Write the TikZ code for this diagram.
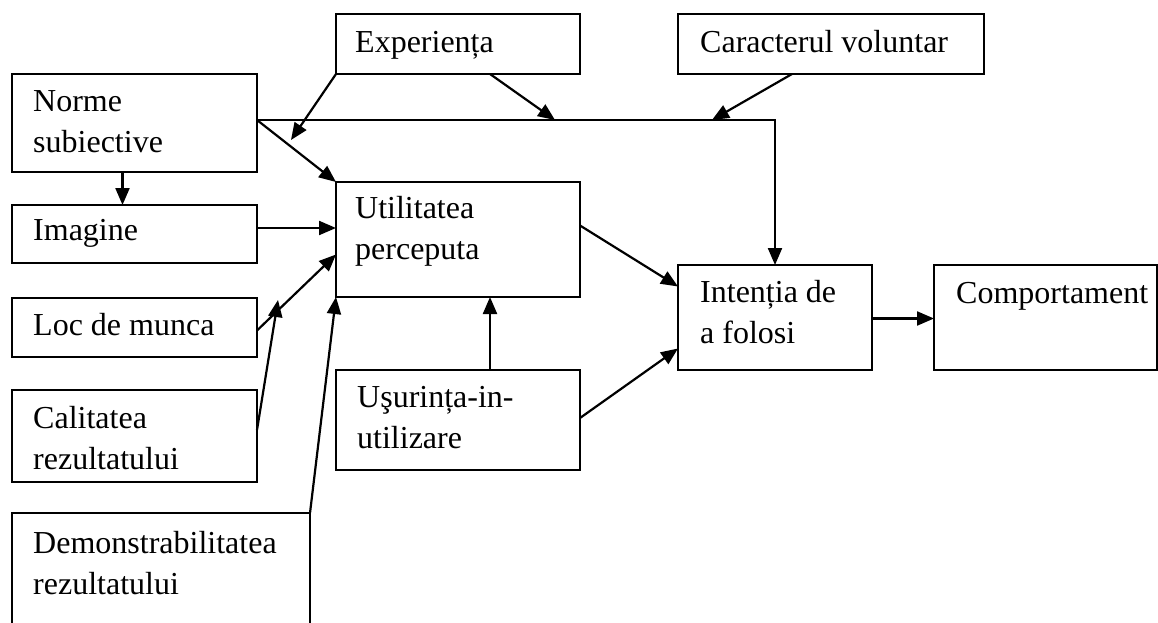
\documentclass[tikz,border=0pt]{standalone}
\usepackage{fontspec}
\setmainfont{Liberation Serif}
\usetikzlibrary{arrows.meta,calc}
\begin{document}
\begin{tikzpicture}[x=1pt,y=-1pt,
  box/.style={draw, line width=2.2pt, rectangle, inner sep=0pt, outer sep=0pt, anchor=north west},
  lbl/.style={anchor=base west, align=left, inner sep=0pt,
    font=\fontsize{32}{41}\selectfont},
  arr/.style={line width=2.2pt, -{Triangle[length=17pt,width=14pt]}}]
\useasboundingbox (0,0) rectangle (1158,623);

% boxes
\node[box, minimum width=245, minimum height=98]  (norme)   at (12,74)  {};
\node[box, minimum width=245, minimum height=58]  (imagine) at (12,205) {};
\node[box, minimum width=245, minimum height=59]  (loc)     at (12,298) {};
\node[box, minimum width=245, minimum height=92]  (calit)   at (12,390) {};
\node[box, minimum width=298, minimum height=140] (demon)   at (12,513) {};
\node[box, minimum width=244, minimum height=60]  (exper)   at (336,14) {};
\node[box, minimum width=306, minimum height=60]  (carac)   at (678,14) {};
\node[box, minimum width=244, minimum height=115] (util)    at (336,182) {};
\node[box, minimum width=244, minimum height=100] (usur)    at (336,370) {};
\node[box, minimum width=194, minimum height=105] (intent)  at (678,265) {};
\node[box, minimum width=223, minimum height=105] (comport) at (934,265) {};

% labels (two-line labels are placed by the baseline of their last line)
\node[lbl] (norme-t)   at (33,152)  {Norme\\subiective};
\node[lbl] (imagine-t) at (33,240)  {Imagine};
\node[lbl] (loc-t)     at (33,335)  {Loc de munca};
\node[lbl] (calit-t)   at (33,469)  {Calitatea\\rezultatului};
\node[lbl] (demon-t)   at (33,594)  {Demonstrabilitatea\\rezultatului};
\node[lbl] (exper-t)   at (355,53)  {Experiența};
\node[lbl] (carac-t)   at (700,53)  {Caracterul voluntar};
\node[lbl] (util-t)    at (355,259) {Utilitatea\\perceputa};
\node[lbl] (usur-t)    at (357,448) {Uşurința-in-\\utilizare};
\node[lbl] (intent-t)  at (700,343) {Intenția de\\a folosi};
\node[lbl] (comport-t) at (956,303) {Comportament};

% junction points
\coordinate (nout)  at (257,120);
\coordinate (jexp)  at (555,120);
\coordinate (jcar)  at (712,120);
\coordinate (jnorm) at (291,140);
\coordinate (jloc)  at (278,300);

% connectors
\draw[arr] (nout) -| (intent.north);
\draw[arr] (nout) -- (util.north west);
\draw[arr] (exper.south west) -- (jnorm);
\draw[arr] ([xshift=154]exper.south west) -- (jexp);
\draw[arr] ([xshift=114]carac.south west) -- (jcar);
\draw[arr] ([xshift=-12]norme.south) -- ([xshift=-12]imagine.north);
\draw[arr] ([yshift=6]imagine.east) -- ([yshift=6]imagine.east -| util.west);
\draw[arr] ([yshift=-3]loc.east) -- ([yshift=-15]util.west);
\draw[arr] ([yshift=6]calit.east) -- (jloc);
\draw[arr] (demon.north east) -- (util.south west);
\draw[arr] ([xshift=32]usur.north) -- ([xshift=32]util.south);
\draw[arr] ([yshift=2]usur.east) -- ([yshift=-31]intent.west);
\draw[arr] ([yshift=14]util.east) -- ([yshift=31]intent.west);
\draw[arr] ([yshift=-1]intent.east) -- ([yshift=-1]intent.east -| comport.west);
\end{tikzpicture}
\end{document}
